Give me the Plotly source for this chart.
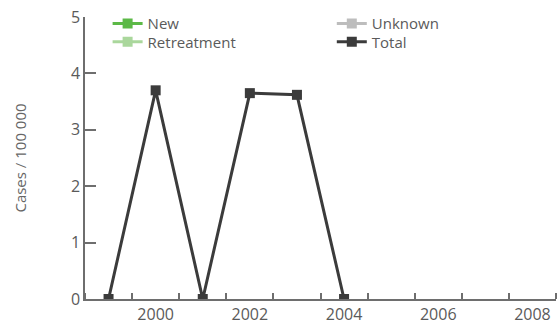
import plotly.graph_objects as go

years = [1999, 2000, 2001, 2002, 2003, 2004, 2005, 2006, 2007, 2008]
new = [None, None, None, None, None, None, None, None, None, None]
retreatment = [None, None, None, None, None, None, None, None, None, None]
unknown = [None, None, None, None, None, None, None, None, None, None]
total = [0, 3.7, 0, 3.65, 3.62, 0, None, None, None, None]
x_labels = [2000, 2002, 2004, 2006, 2008]
y_ticks = [0, 1, 2, 3, 4, 5]

font_family = "Open Sans, Lato, sans-serif"
grey = "#5a5a5a"

fig = go.Figure()


def add(name, y, color, legend):
    fig.add_trace(go.Scatter(
        x=years, y=y, name=name, mode="lines+markers",
        line=dict(color=color, width=3),
        marker=dict(symbol="square", size=10, color=color),
        legend=legend, connectgaps=False, showlegend=True,
    ))


# one legend per entry so the rows sit as tight as in the original
add("New", new, "#5cb947", "legend")
add("Retreatment", retreatment, "#aad79c", "legend2")
add("Unknown", unknown, "#bdbdbd", "legend3")
add("Total", total, "#3b3b3b", "legend4")

legend_style = dict(
    orientation="v", xanchor="left", yanchor="top",
    font=dict(family=font_family, size=15, color=grey),
    bgcolor="rgba(0,0,0,0)", itemwidth=30,
)
row1, row2 = 1.035, 0.970
col1, col2 = 0.048, 0.524

fig.update_layout(
    width=557, height=324, showlegend=True,
    margin=dict(l=85, r=1, t=17, b=25, autoexpand=False),
    plot_bgcolor="white", paper_bgcolor="white",
    font=dict(family=font_family, size=13, color=grey),
    legend=dict(x=col1, y=row1, visible=True, **legend_style),
    legend2=dict(x=col1, y=row2, **legend_style),
    legend3=dict(x=col2, y=row1, **legend_style),
    legend4=dict(x=col2, y=row2, **legend_style),
    xaxis=dict(
        range=[1998.5, 2008.5], tickvals=x_labels, ticks="",
        showline=True, linecolor="#6e6e6e", linewidth=1.5,
        showgrid=False, zeroline=False,
        tickfont=dict(size=16, color=grey),
        minor=dict(tick0=1998.5, dtick=1, ticks="inside", ticklen=6,
                   tickcolor="#6e6e6e", tickwidth=1.5, showgrid=False),
    ),
    yaxis=dict(
        range=[0, 5], tickvals=y_ticks, ticks="inside", ticklen=11,
        tickcolor="#6e6e6e", tickwidth=1.5,
        showline=True, linecolor="#6e6e6e", linewidth=1.5,
        showgrid=False, zeroline=False,
        tickfont=dict(size=16, color=grey),
        title=dict(text="Cases / 100 000", standoff=41,
                   font=dict(size=15, color="#666666")),
    ),
)

# the page's default body margin would shift the figure by 8 px
fig.write_html("out.html", config={"displayModeBar": False},
               post_script="document.body.style.margin='0';")
